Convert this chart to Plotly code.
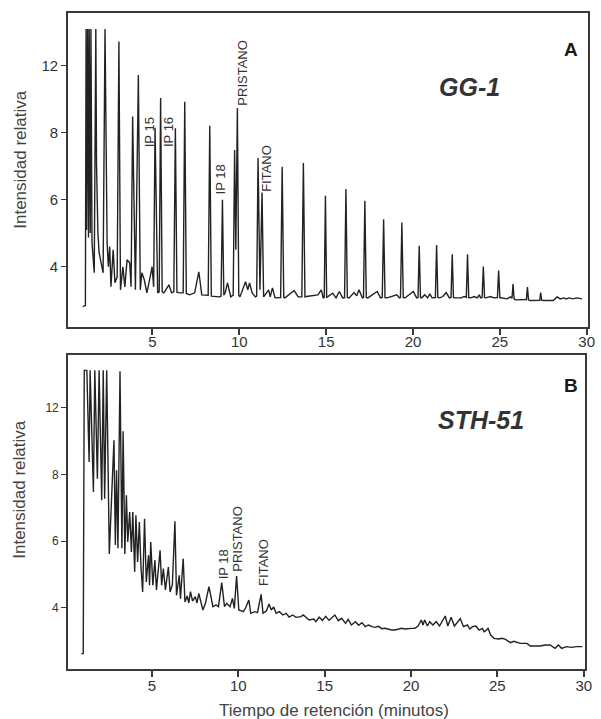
import plotly.graph_objects as go

# ---------------- data (retention time in minutes, relative intensity in axis units) -------------
# Panel A  (GG-1)
time_a = [0.98, 1.14, 1.18, 1.21, 1.27, 1.32, 1.36, 1.42, 1.46, 1.52,
          1.65, 1.74, 1.78, 1.86, 1.93, 2.16, 2.27, 2.39, 2.46, 2.54,
          2.61, 2.74, 2.84, 2.97, 3.07, 3.16, 3.30, 3.41, 3.54, 3.69,
          3.77, 3.86, 4.02, 4.19, 4.30, 4.39, 4.53, 4.68, 4.87, 4.98,
          5.07, 5.15, 5.30, 5.39, 5.47, 5.56, 5.66, 5.95, 6.10, 6.23,
          6.32, 6.41, 6.57, 6.77, 6.86, 6.95, 7.14, 7.43, 7.67, 7.84,
          8.21, 8.30, 8.39, 8.65, 8.85, 8.95, 9.03, 9.11, 9.19, 9.32,
          9.51, 9.65, 9.73, 9.80, 9.89, 9.97, 10.04, 10.36, 10.49, 10.59,
          10.74, 10.93, 11.00, 11.08, 11.19, 11.31, 11.40, 11.69, 11.78, 11.91,
          12.06, 12.38, 12.47, 12.56, 12.63, 13.16, 13.39, 13.60, 13.69, 13.78,
          13.86, 14.53, 14.72, 14.83, 14.89, 14.96, 15.03, 15.10, 15.38, 15.57,
          15.76, 15.95, 16.06, 16.14, 16.22, 16.32, 16.61, 16.76, 16.89, 17.09,
          17.15, 17.23, 17.31, 17.40, 17.65, 17.94, 18.13, 18.23, 18.31, 18.39,
          18.51, 18.79, 19.07, 19.22, 19.28, 19.36, 19.44, 19.55, 19.79, 20.02,
          20.21, 20.29, 20.36, 20.43, 20.49, 20.68, 20.84, 20.97, 21.10, 21.29,
          21.36, 21.43, 21.53, 21.72, 21.91, 22.10, 22.19, 22.26, 22.33, 22.43,
          22.77, 22.95, 23.07, 23.14, 23.21, 23.33, 23.52, 23.71, 23.81, 23.90,
          23.98, 24.05, 24.12, 24.19, 24.47, 24.66, 24.86, 24.93, 25.00, 25.07,
          25.41, 25.61, 25.70, 25.76, 25.82, 25.89, 26.27, 26.53, 26.59, 26.65,
          26.74, 27.12, 27.30, 27.35, 27.41, 27.50, 28.07, 28.30, 28.48, 28.68,
          28.83, 28.98, 29.20, 29.43, 29.73]
intensity_a = [2.81, 2.84, 11.10, 5.10, 11.10, 4.87, 11.10, 5.01, 11.10, 4.72,
               3.82, 11.10, 7.10, 5.01, 4.42, 3.82, 11.10, 4.72, 4.00, 4.60,
               3.40, 4.51, 3.52, 3.70, 10.73, 3.31, 4.00, 3.40, 4.21, 4.12,
               3.40, 8.49, 3.31, 9.73, 3.31, 3.82, 3.61, 3.22, 3.70, 4.00,
               3.40, 8.15, 3.22, 3.25, 9.04, 3.25, 3.22, 3.46, 3.22, 3.25,
               8.14, 3.24, 3.22, 3.22, 8.93, 3.20, 3.16, 3.22, 3.85, 3.16,
               3.15, 8.21, 3.12, 3.10, 3.10, 3.12, 6.00, 3.15, 3.22, 3.52,
               3.10, 3.15, 7.49, 4.51, 8.74, 3.15, 3.10, 3.55, 3.31, 3.52,
               3.22, 3.10, 3.12, 7.25, 3.31, 6.22, 3.10, 3.31, 3.10, 3.37,
               3.07, 3.08, 6.99, 3.09, 3.07, 3.29, 3.10, 3.10, 7.10, 3.10,
               3.11, 3.16, 3.31, 3.07, 3.08, 6.12, 3.09, 3.11, 3.21, 3.07,
               3.26, 3.07, 3.08, 6.32, 3.08, 3.07, 3.23, 3.13, 3.31, 3.07,
               3.08, 5.97, 3.08, 3.07, 3.16, 3.26, 3.07, 3.08, 5.42, 3.08,
               3.07, 3.11, 3.16, 3.07, 3.08, 5.32, 3.08, 3.07, 3.16, 3.26,
               3.07, 3.08, 4.63, 3.08, 3.07, 3.16, 3.07, 3.19, 3.07, 3.08,
               4.65, 3.08, 3.07, 3.11, 3.23, 3.07, 3.08, 4.37, 3.08, 3.07,
               3.07, 3.11, 3.09, 4.37, 3.08, 3.07, 3.11, 3.07, 3.16, 3.07,
               3.08, 4.01, 3.08, 3.07, 3.11, 3.07, 3.08, 3.89, 3.08, 3.07,
               3.04, 3.10, 3.06, 3.48, 3.04, 3.01, 3.01, 3.02, 3.39, 3.01,
               2.99, 2.99, 3.00, 3.23, 3.00, 2.99, 2.99, 3.10, 3.04, 3.07,
               3.04, 3.07, 3.04, 3.07, 3.04]

# Panel B  (STH-51)
time_b = [0.92, 1.02, 1.08, 1.23, 1.36, 1.42, 1.61, 1.69, 1.84, 1.94,
          2.09, 2.18, 2.26, 2.38, 2.53, 2.80, 2.88, 2.95, 3.03, 3.15,
          3.26, 3.33, 3.43, 3.52, 3.60, 3.71, 3.81, 3.89, 4.00, 4.07,
          4.17, 4.27, 4.36, 4.46, 4.57, 4.67, 4.80, 4.86, 4.93, 5.05,
          5.17, 5.26, 5.47, 5.56, 5.66, 5.78, 5.95, 6.05, 6.18, 6.33,
          6.42, 6.58, 6.65, 6.81, 6.91, 7.04, 7.13, 7.23, 7.35, 7.51,
          7.61, 7.71, 7.95, 8.10, 8.30, 8.53, 8.72, 8.85, 9.04, 9.20,
          9.33, 9.52, 9.66, 9.77, 9.90, 10.03, 10.29, 10.42, 10.61, 10.72,
          10.95, 11.11, 11.32, 11.43, 11.62, 11.78, 11.91, 12.05, 12.19, 12.38,
          12.58, 12.77, 12.94, 13.15, 13.34, 13.63, 13.76, 13.91, 14.10, 14.37,
          14.49, 14.68, 14.87, 15.06, 15.25, 15.40, 15.59, 15.79, 15.98, 16.21,
          16.36, 16.55, 16.78, 16.97, 17.16, 17.35, 17.54, 17.74, 17.93, 18.11,
          18.31, 18.50, 18.69, 18.88, 19.07, 19.26, 19.46, 19.64, 19.83, 20.03,
          20.22, 20.41, 20.60, 20.69, 20.79, 20.95, 21.08, 21.27, 21.46, 21.65,
          21.98, 22.13, 22.32, 22.51, 22.70, 22.85, 23.04, 23.27, 23.40, 23.56,
          23.75, 23.94, 24.13, 24.23, 24.33, 24.46, 24.61, 24.80, 25.09, 25.28,
          25.47, 25.76, 25.95, 26.33, 26.71, 26.91, 27.48, 27.77, 28.05, 28.34,
          28.53, 28.72, 29.00, 29.29, 29.58, 29.92]
intensity_b = [2.62, 2.62, 11.12, 11.12, 8.37, 11.12, 7.47, 11.12, 7.87, 11.12,
               7.22, 11.12, 7.27, 11.12, 5.61, 9.02, 5.88, 8.12, 5.78, 11.09,
               5.78, 9.29, 5.61, 7.37, 5.97, 6.87, 5.67, 6.87, 5.07, 6.77,
               5.37, 6.57, 5.27, 4.47, 6.67, 4.77, 5.57, 4.67, 5.97, 4.67,
               5.43, 4.53, 5.72, 4.67, 5.17, 4.53, 5.22, 4.47, 4.68, 6.59,
               4.37, 4.97, 4.27, 5.47, 4.17, 4.35, 4.14, 4.48, 4.20, 4.33,
               4.14, 4.43, 3.93, 4.14, 4.63, 4.03, 4.08, 4.03, 4.75, 4.03,
               4.13, 4.03, 4.28, 3.98, 4.95, 3.93, 3.88, 3.99, 4.23, 3.83,
               3.88, 3.85, 4.40, 3.83, 3.90, 4.11, 3.93, 4.02, 3.83, 3.88,
               3.78, 3.83, 3.72, 3.78, 3.71, 3.73, 3.78, 3.71, 3.63, 3.66,
               3.58, 3.72, 3.62, 3.74, 3.62, 3.69, 3.78, 3.61, 3.68, 3.53,
               3.65, 3.48, 3.58, 3.47, 3.55, 3.43, 3.48, 3.43, 3.41, 3.44,
               3.37, 3.38, 3.35, 3.33, 3.33, 3.35, 3.38, 3.36, 3.38, 3.38,
               3.38, 3.45, 3.63, 3.48, 3.63, 3.45, 3.58, 3.48, 3.58, 3.45,
               3.75, 3.45, 3.71, 3.45, 3.57, 3.67, 3.43, 3.48, 3.36, 3.43,
               3.45, 3.33, 3.38, 3.28, 3.31, 3.38, 3.18, 3.08, 3.06, 3.08,
               3.05, 2.95, 2.99, 2.93, 2.93, 2.85, 2.85, 2.88, 2.88, 2.78,
               2.88, 2.78, 2.83, 2.81, 2.83, 2.83]

x_tick_vals = [5, 10, 15, 20, 25, 30]
y_tick_vals = [4, 6, 8, 10]
y_tick_text = ["4", "6", "8", "12"]

# ---------------- figure -------------
W, H = 601, 719
FONT = "Liberation Sans, Arial, sans-serif"
TXT = "#333333"
LINE = "#222222"

fig = go.Figure()
fig.add_trace(go.Scatter(x=time_a, y=intensity_a, mode="lines", xaxis="x", yaxis="y",
                         line=dict(color=LINE, width=1.4), showlegend=False, hoverinfo="skip"))
fig.add_trace(go.Scatter(x=time_b, y=intensity_b, mode="lines", xaxis="x2", yaxis="y2",
                         line=dict(color=LINE, width=1.4), showlegend=False, hoverinfo="skip"))


def px(x):
    return x / W


def py(y):
    return 1 - y / H


axis_common = dict(showline=True, mirror=True, linecolor="#3a3a3a", linewidth=2,
                   showgrid=False, zeroline=False, ticks="outside", tickcolor="#3a3a3a",
                   fixedrange=True)

fig.update_layout(
    width=W, height=H,
    margin=dict(l=0, r=0, t=0, b=0),
    paper_bgcolor="white", plot_bgcolor="white",
    font=dict(family=FONT, color=TXT),
    xaxis=dict(domain=[px(69), px(595)], range=[0.15, 30.08], anchor="y",
               tickvals=x_tick_vals, ticklen=6, tickwidth=1.5, ticklabelstandoff=-6,
               tickfont=dict(size=15, color=TXT), **axis_common),
    yaxis=dict(domain=[py(327), py(13)], range=[2.2, 11.58], anchor="x",
               tickvals=y_tick_vals, ticktext=y_tick_text, ticklen=5, tickwidth=1.2,
               tickfont=dict(size=15, color=TXT), **axis_common),
    xaxis2=dict(domain=[px(69), px(592)], range=[0.15, 30.08], anchor="y2",
                tickvals=x_tick_vals, ticklen=6, tickwidth=1.5, ticklabelstandoff=-4,
                tickfont=dict(size=15, color=TXT), **axis_common),
    yaxis2=dict(domain=[py(669), py(355)], range=[2.16, 11.58], anchor="x2",
                tickvals=y_tick_vals, ticktext=y_tick_text, ticklen=5, tickwidth=1.2,
                tickfont=dict(size=12, color=TXT), **axis_common),
)

ann = []


def text(x, y, s, size, angle=0, bold=False, italic=False, color=TXT):
    if bold:
        s = "<b>" + s + "</b>"
    if italic:
        s = "<i>" + s + "</i>"
    ann.append(dict(x=px(x), y=py(y), xref="paper", yref="paper", text=s, showarrow=False,
                    textangle=angle, xanchor="center", yanchor="middle",
                    font=dict(family=FONT, size=size, color=color)))


# panel letters and sample names
text(578, 49, "A", 19, bold=True, color="#1a1a1a")
text(475, 87, "GG-1", 25, bold=True, italic=True)
text(578, 385, "B", 19, bold=True, color="#1a1a1a")
text(487, 420, "STH-51", 25, bold=True, italic=True)

# axis titles
text(20, 159, "Intensidad relativa", 17, angle=-90, color="#444444")
text(20, 489, "Intensidad relativa", 17, angle=-90, color="#444444")
text(338, 710, "Tiempo de retención (minutos)", 17, color="#444444")

# peak labels, panel A
text(151, 132, "IP 15", 13, angle=-90)
text(170, 132, "IP 16", 13, angle=-90)
text(224, 179, "IP 18", 13, angle=-90)
text(244.5, 73, "PRISTANO", 13, angle=-90)
text(269, 168, "FITANO", 13, angle=-90)

# peak labels, panel B
text(226, 564, "IP 18", 13, angle=-90)
text(239.5, 539, "PRISTANO", 13, angle=-90)
text(266, 562, "FITANO", 13, angle=-90)

fig.update_layout(annotations=ann)

fig.write_html("out.html")
